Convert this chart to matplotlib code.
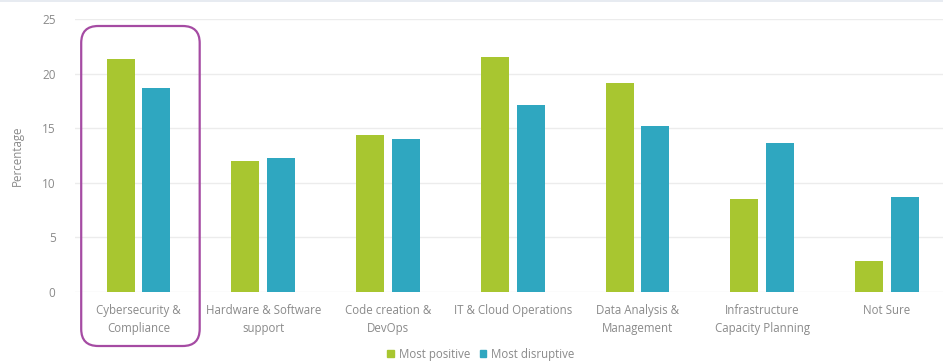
import numpy as np
import matplotlib
matplotlib.use("Agg")
from matplotlib import pyplot as plt
from matplotlib.patches import FancyBboxPatch, Patch
from matplotlib.transforms import IdentityTransform

plt.rcParams['font.family'] = ['Open Sans', 'DejaVu Sans']

categories = ["Cybersecurity &\nCompliance", "Hardware & Software\nsupport",
              "Code creation &\nDevOps", "IT & Cloud Operations",
              "Data Analysis &\nManagement", "Infrastructure\nCapacity Planning",
              "Not Sure"]
most_positive = [21.3, 12.0, 14.4, 21.5, 19.1, 8.5, 2.8]
most_disruptive = [18.7, 12.3, 14.0, 17.1, 15.2, 13.6, 8.7]
series_names = ["Most positive", "Most disruptive"]
y_ticks = [0, 5, 10, 15, 20, 25]

GREEN = '#a8c630'
BLUE = '#2fa7c0'
TEXT = '#8a8a8a'
GRID = '#ececec'

fig = plt.figure(figsize=(9.43, 3.62), dpi=100)
ax = fig.add_axes([0.0795, 0.1934, 0.9205, 0.7541])

x = np.arange(len(categories))
w = 0.225
off = 0.143
ax.bar(x - off, most_positive, w, color=GREEN, zorder=3)
ax.bar(x + off, most_disruptive, w, color=BLUE, zorder=3)

ax.set_xlim(-0.51, 6.45)
ax.set_ylim(0, 25)
ax.set_yticks(y_ticks)
ax.yaxis.grid(True, color=GRID, linewidth=1.0, zorder=0)
ax.set_xticks(x)
ax.set_xticklabels(categories, fontsize=8.3, color=TEXT, linespacing=1.5)
ax.tick_params(axis='x', length=0, pad=9)
ax.tick_params(axis='y', length=0, pad=14, labelsize=8.5, labelcolor=TEXT)
for s in ax.spines.values():
    s.set_visible(False)
ax.set_ylabel("Percentage", fontsize=8.3, color=TEXT, labelpad=13)

# thin border along the top edge
fig.add_artist(plt.Line2D([0, 1], [0.998, 0.998], color='#e3e8ef', linewidth=1.2,
                          transform=fig.transFigure))

# highlight box around the first category
ax.figure.canvas.draw()
x0 = ax.transData.transform((-0.46, 0))[0]
x1 = ax.transData.transform((0.49, 0))[0]
box = FancyBboxPatch((x0, 16), x1 - x0, 320,
                     boxstyle="round,pad=0,rounding_size=17",
                     transform=IdentityTransform(), fill=False,
                     edgecolor='#a54ba3', linewidth=1.6, clip_on=False)
fig.add_artist(box)

handles = [Patch(color=GREEN), Patch(color=BLUE)]
fig.legend(handles, series_names, loc='center', bbox_to_anchor=(0.51, 0.022),
           ncol=2, frameon=False, fontsize=8.3, labelcolor=TEXT,
           handlelength=0.6, handleheight=0.6, handletextpad=0.4, columnspacing=0.8)

fig.savefig("out.png", dpi=100)
